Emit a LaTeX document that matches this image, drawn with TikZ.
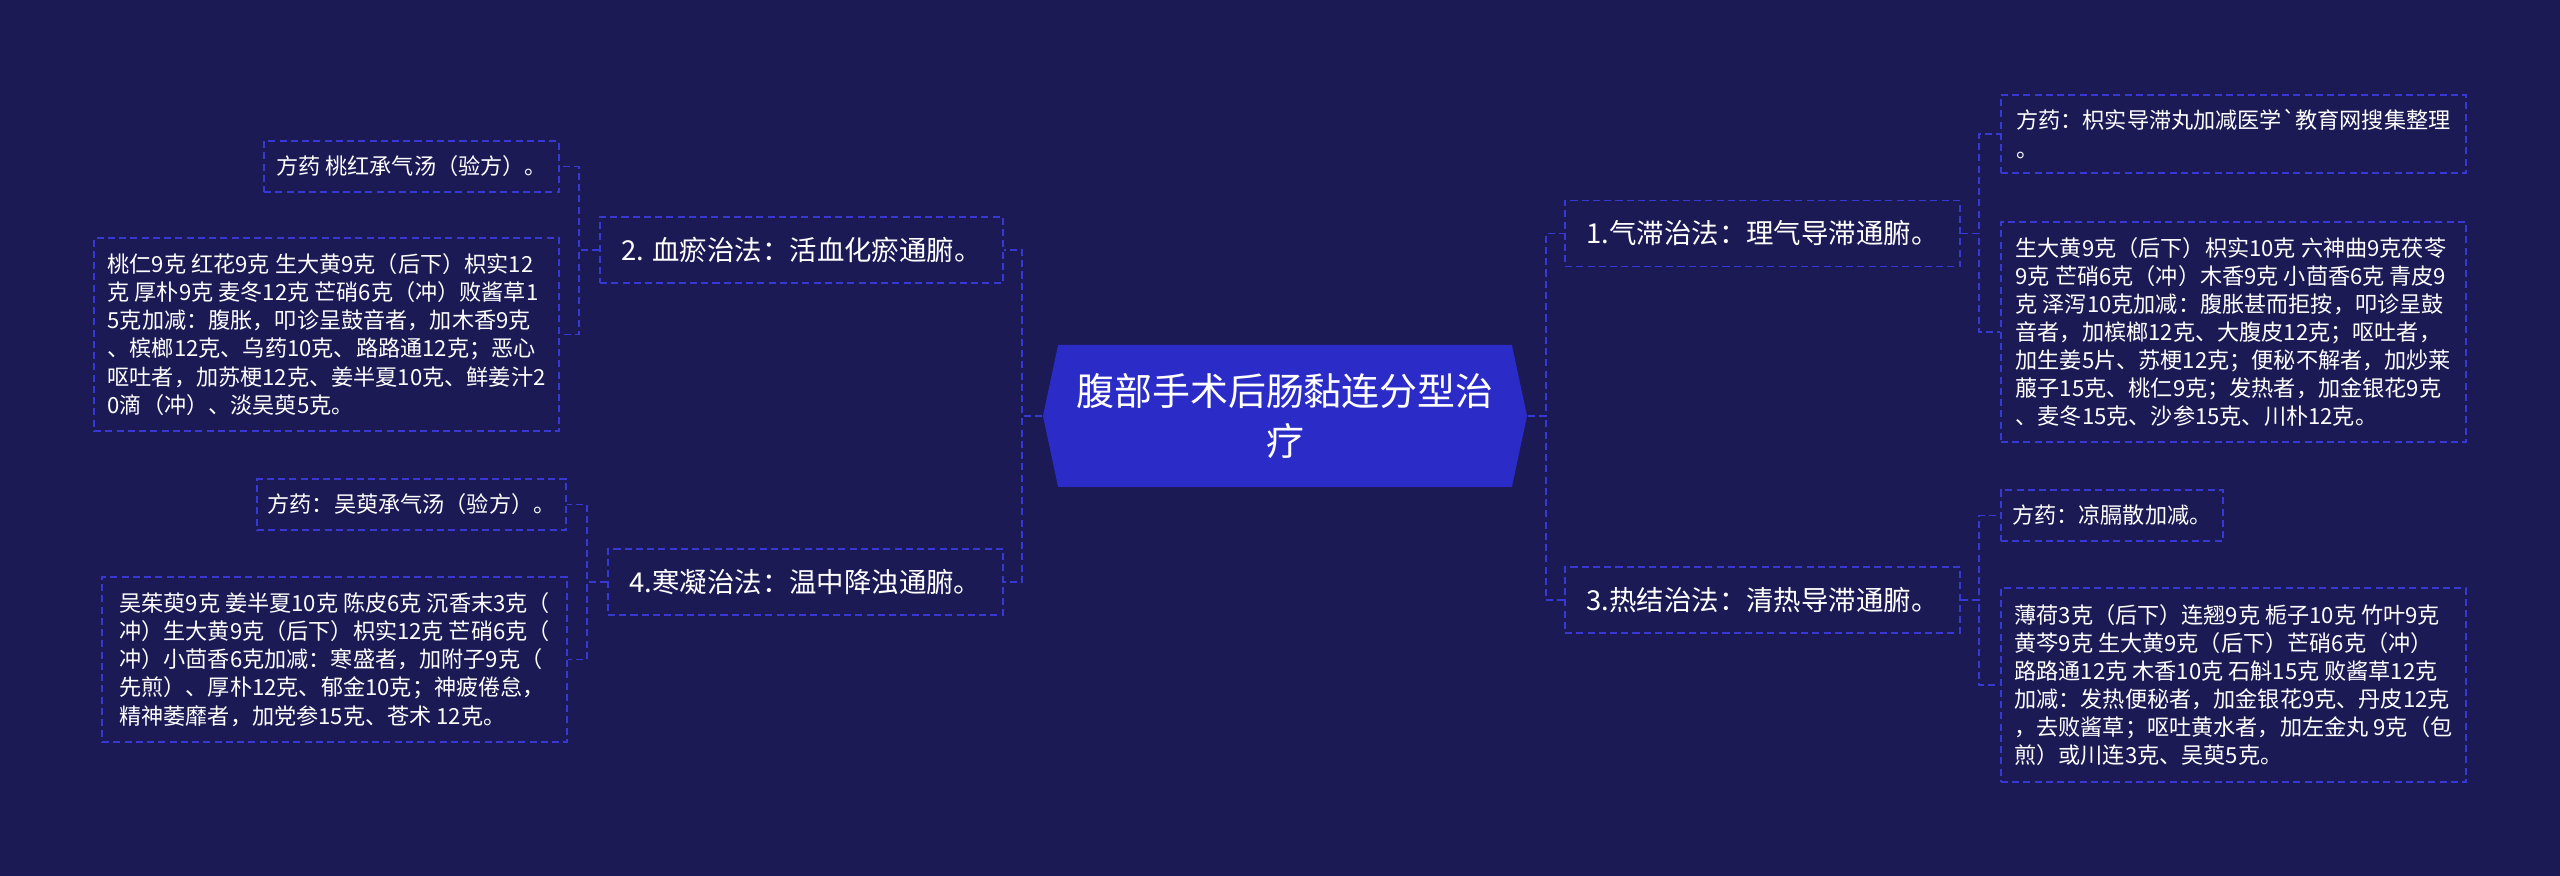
\documentclass[tikz,border=0pt]{standalone}
\usepackage{fontspec}
\setmainfont{Noto Sans CJK SC}
\usetikzlibrary{shapes.symbols}

\definecolor{bgnavy}{HTML}{1B1A55}
\definecolor{rootblue}{HTML}{2B2BC8}
\definecolor{linkblue}{HTML}{3838D2}

\begin{document}
\begin{tikzpicture}[
    link/.style={linkblue, line width=0.5pt, dash pattern=on 2pt off 1.2pt},
    root/.style={signal, signal to=east and west, signal pointer angle=156,
      fill=rootblue, text=white, minimum width=4.84cm, minimum height=1.42cm,
      inner sep=0pt, align=center, font=\fontsize{10.8pt}{14.2pt}\selectfont},
    branch/.style={link, draw, text=white, inner sep=0pt, minimum height=0.66cm,
      font=\fontsize{7.8pt}{9pt}\selectfont},
    leaf/.style={link, draw, text=white, inner sep=0pt, align=left,
      font=\fontsize{6.3pt}{8pt}\selectfont}
  ]
    % Background
    \fill[bgnavy] (0,0) rectangle (25.6,8.76);
    \useasboundingbox (0,0) rectangle (25.6,8.76);

    % Central topic
    \node[root] (root) at (12.85,4.60) {腹部手术后肠黏连分型治\\疗};

    % Main branches
    \node[branch, minimum width=4.03cm] (xueyu) at (8.015,6.26) {2. 血瘀治法：活血化瘀通腑。};
    \node[branch, minimum width=3.95cm] (hanning) at (8.055,2.94) {4.寒凝治法：温中降浊通腑。};
    \node[branch, minimum width=3.95cm] (qizhi) at (17.625,6.425) {1.气滞治法：理气导滞通腑。};
    \node[branch, minimum width=3.95cm] (rejie) at (17.625,2.76) {3.热结治法：清热导滞通腑。};

    % Leaves of 2
    \node[leaf, anchor=east, minimum width=2.95cm, minimum height=0.51cm] (xueyuFang) at (5.60,7.095) {方药 桃红承气汤（验方）。};
    \node[leaf, anchor=east, minimum width=4.65cm, minimum height=1.93cm] (xueyuYao) at (5.60,5.415) {桃仁9克 红花9克 生大黄9克（后下）枳实12\\克 厚朴9克 麦冬12克 芒硝6克（冲）败酱草1\\5克加减：腹胀，叩诊呈鼓音者，加木香9克\\、槟榔12克、乌药10克、路路通12克；恶心\\呕吐者，加苏梗12克、姜半夏10克、鲜姜汁2\\0滴（冲）、淡吴萸5克。};

    % Leaves of 4
    \node[leaf, anchor=east, minimum width=3.09cm, minimum height=0.51cm] (hanningFang) at (5.67,3.715) {方药：吴萸承气汤（验方）。};
    \node[leaf, anchor=east, minimum width=4.65cm, minimum height=1.65cm] (hanningYao) at (5.68,2.165) {吴茱萸9克 姜半夏10克 陈皮6克 沉香末3克（\\冲）生大黄9克（后下）枳实12克 芒硝6克（\\冲）小茴香6克加减：寒盛者，加附子9克（\\先煎）、厚朴12克、郁金10克；神疲倦怠，\\精神萎靡者，加党参15克、苍术 12克。};

    % Leaves of 1
    \node[leaf, anchor=west, minimum width=4.65cm, minimum height=0.78cm] (qizhiFang) at (20.00,7.42) {方药：枳实导滞丸加减医学\textasciigrave 教育网搜集整理\\。};
    \node[leaf, anchor=west, minimum width=4.65cm, minimum height=2.20cm] (qizhiYao) at (20.00,5.44) {生大黄9克（后下）枳实10克 六神曲9克茯苓\\9克 芒硝6克（冲）木香9克 小茴香6克 青皮9\\克 泽泻10克加减：腹胀甚而拒按，叩诊呈鼓\\音者，加槟榔12克、大腹皮12克；呕吐者，\\加生姜5片、苏梗12克；便秘不解者，加炒莱\\菔子15克、桃仁9克；发热者，加金银花9克\\、麦冬15克、沙参15克、川朴12克。};

    % Leaves of 3
    \node[leaf, anchor=west, minimum width=2.22cm, minimum height=0.51cm] (rejieFang) at (20.00,3.605) {方药：凉膈散加减。};
    \node[leaf, anchor=west, minimum width=4.65cm, minimum height=1.94cm] (rejieYao) at (20.00,1.91) {薄荷3克（后下）连翘9克 栀子10克 竹叶9克\\黄芩9克 生大黄9克（后下）芒硝6克（冲）\\路路通12克 木香10克 石斛15克 败酱草12克\\加减：发热便秘者，加金银花9克、丹皮12克\\，去败酱草；呕吐黄水者，加左金丸 9克（包\\煎）或川连3克、吴萸5克。};

    % Connectors
    \draw[link] (root.west) -- ++(-0.2,0) |- (xueyu.east);
    \draw[link] (root.west) -- ++(-0.2,0) |- (hanning.east);
    \draw[link] (root.east) -- ++(0.18,0) |- (qizhi.west);
    \draw[link] (root.east) -- ++(0.18,0) |- (rejie.west);

    \draw[link] (xueyu.west) -- ++(-0.2,0) |- (xueyuFang.east);
    \draw[link] (xueyu.west) -- ++(-0.2,0) |- (xueyuYao.east);
    \draw[link] (hanning.west) -- ++(-0.2,0) |- (hanningFang.east);
    \draw[link] (hanning.west) -- ++(-0.2,0) |- (hanningYao.east);

    \draw[link] (qizhi.east) -- ++(0.18,0) |- (qizhiFang.west);
    \draw[link] (qizhi.east) -- ++(0.18,0) |- (qizhiYao.west);
    \draw[link] (rejie.east) -- ++(0.18,0) |- (rejieFang.west);
    \draw[link] (rejie.east) -- ++(0.18,0) |- (rejieYao.west);
  \end{tikzpicture}
\end{document}
